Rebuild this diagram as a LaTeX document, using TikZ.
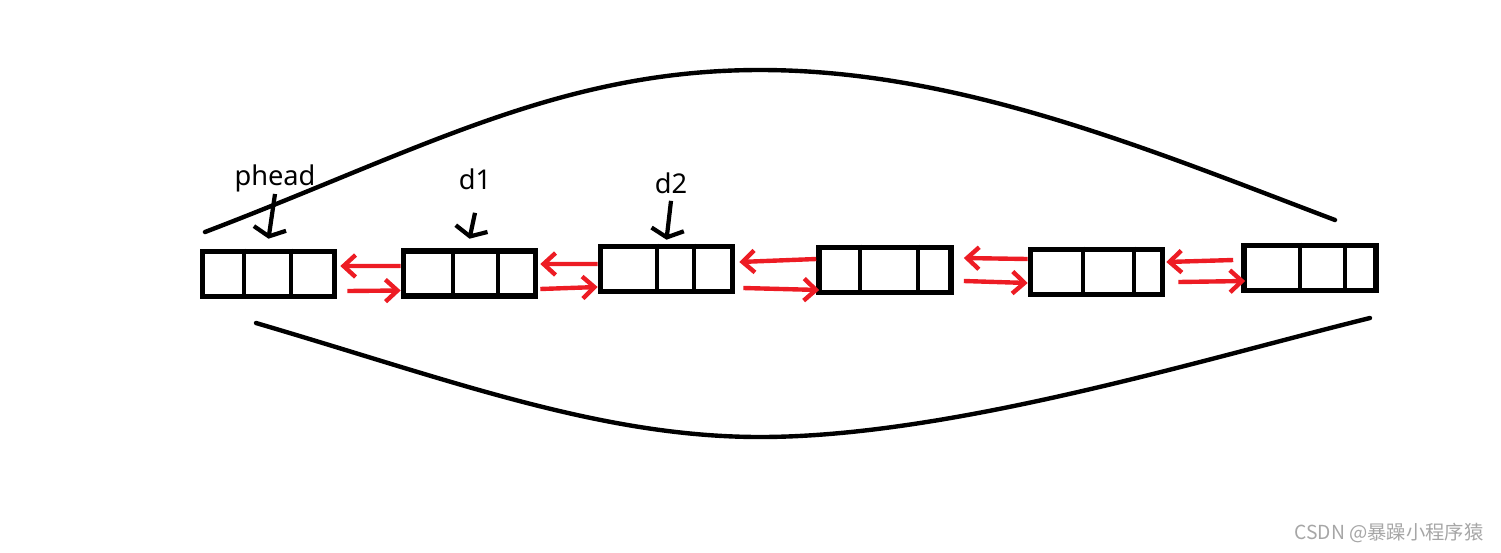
\documentclass[tikz,border=0pt]{standalone}
\usepackage{fontspec}
\setmainfont{Noto Sans}
\newfontfamily\cjk{Noto Sans CJK SC}
\usetikzlibrary{arrows.meta,positioning}
\definecolor{linkred}{RGB}{237,28,36}

\begin{document}
\begin{tikzpicture}[
    x=0.02cm, y=-0.02cm,
    box/.style={rectangle, draw, line width=3.2pt, minimum width=2.64cm, minimum height=0.9cm, inner sep=0pt},
    divider/.style={line width=2.8pt},
    tag/.style={inner sep=0pt, font=\fontsize{15.5}{18}\selectfont},
    pointer/.style={-{Straight Barb[length=1.6mm,width=6.5mm]}, line width=2.4pt},
    link/.style={-{Straight Barb[length=2.4mm,width=4.4mm]}, line width=2.5pt, draw=linkred},
    ring/.style={line width=2.5pt, line cap=round}
]
    \useasboundingbox (0,0) rectangle (1501,552);

    \node[box] (n1) at (268.5,274) {};
    \node[box] (n2) at (469.5,273.5) {};
    \node[box] (n3) at (666.5,269) {};
    \node[box] (n4) at (885,270) {};
    \node[box] (n5) at (1096.5,272) {};
    \node[box] (n6) at (1310,268) {};
    \foreach \n/\a/\b in {n1/244/291, n2/453/498, n3/657/694, n4/860/918, n5/1083/1134, n6/1300/1345} {
        \draw[divider] (\a,0 |- \n.north) -- (\a,0 |- \n.south);
        \draw[divider] (\b,0 |- \n.north) -- (\b,0 |- \n.south);
    }

    \node[tag] (phead) at (275,178) {phead};
    \node[tag] (d1) at (475,179) {d1};
    \node[tag] (d2) at (671,183) {d2};
    \draw[pointer] ([yshift=-0.04cm]phead.south) -- ([yshift=0.2cm]n1.north);
    \draw[pointer] ([yshift=-0.46cm]d1.south) -- ([yshift=0.19cm]n2.north);
    \draw[pointer] ([yshift=-0.14cm]d2.south) -- ([yshift=0.08cm]n3.north);

    \draw[link] ([yshift=0.15cm]n2.west) -- ([yshift=0.16cm,xshift=0.06cm]n1.east);
    \draw[link] ([yshift=-0.34cm,xshift=0.2cm]n1.east) -- ([yshift=-0.34cm]n2.west);
    \draw[link] ([yshift=0.1cm]n3.west) -- ([yshift=0.19cm,xshift=0.04cm]n2.east);
    \draw[link] ([yshift=-0.31cm,xshift=0.04cm]n2.east) -- ([yshift=-0.36cm]n3.west);
    \draw[link] ([yshift=0.22cm]n4.west) -- ([yshift=0.14cm,xshift=0.08cm]n3.east);
    \draw[link] ([yshift=-0.38cm,xshift=0.16cm]n3.east) -- ([yshift=-0.4cm,xshift=0.06cm]n4.west);
    \draw[link] ([yshift=0.26cm]n5.west) -- ([yshift=0.24cm,xshift=0.2cm]n4.east);
    \draw[link] ([yshift=-0.22cm,xshift=0.2cm]n4.east) -- ([yshift=-0.22cm]n5.west);
    \draw[link] ([yshift=0.16cm,xshift=-0.16cm]n6.west) -- ([yshift=0.2cm,xshift=0.02cm]n5.east);
    \draw[link] ([yshift=-0.2cm,xshift=0.26cm]n5.east) -- ([yshift=-0.26cm,xshift=0.08cm]n6.west);

    \draw[ring] (205,232) .. controls (420,150) and (560,70) .. (760,70)
        .. controls (960,70) and (1150,150) .. (1335,220);
    \draw[ring] (256,323) .. controls (450,380) and (600,437) .. (760,437)
        .. controls (950,437) and (1200,360) .. (1370,318);

    \node[text=black!35, font=\cjk\fontsize{11}{13}\selectfont] (mark) at (1389,533) {CSDN @暴躁小程序猿};
\end{tikzpicture}
\end{document}
